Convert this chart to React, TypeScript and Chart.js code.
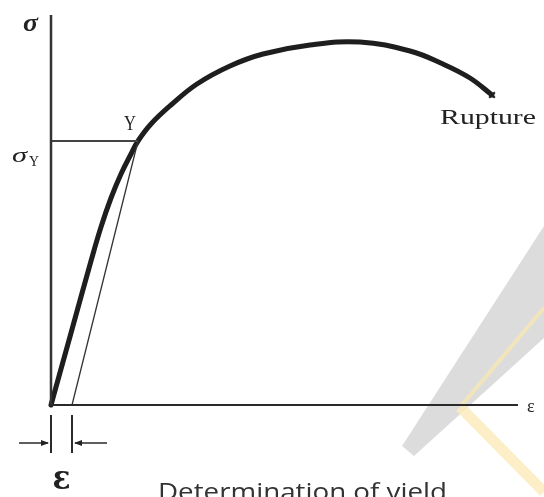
import React, { useEffect, useRef } from "react";
import { Chart, registerables } from "chart.js";

Chart.register(...registerables);

// Stress–strain curve (arbitrary units: strain, stress)
const strain = [0, 0.02, 0.04, 0.05, 0.06, 0.07, 0.08, 0.087, 0.1, 0.12, 0.146, 0.179, 0.212, 0.259, 0.309, 0.359, 0.392, 0.419, 0.441];
const stress = [0, 72, 144, 178, 207, 231, 251, 264, 281, 300, 321, 339, 351, 360, 363, 354, 341, 327, 310];

const yieldStrain = 0.087;
const yieldStress = 264;
const offsetStrain = 0.021;
const axisMaxStrain = 0.467;
const axisMaxStress = 390;

const W = 544;
const H = 497;

function drawScaledText(
  ctx: CanvasRenderingContext2D,
  text: string,
  font: string,
  left: number,
  baseline: number,
  width?: number
) {
  ctx.save();
  ctx.font = font;
  ctx.textAlign = "left";
  ctx.textBaseline = "alphabetic";
  const m = ctx.measureText(text).width;
  const sx = width ? width / m : 1;
  ctx.translate(left, baseline);
  ctx.scale(sx, 1);
  ctx.fillText(text, 0, 0);
  ctx.restore();
}

const backgroundPlugin = {
  id: "bgWatermark",
  beforeDraw(chart: any) {
    const ctx: CanvasRenderingContext2D = chart.ctx;
    ctx.save();
    ctx.fillStyle = "#ffffff";
    ctx.fillRect(0, 0, chart.width, chart.height);
    // faint grey diagonal band
    ctx.fillStyle = "rgba(208,208,208,0.75)";
    ctx.beginPath();
    ctx.moveTo(402, 446);
    ctx.lineTo(414, 456);
    ctx.lineTo(544, 338);
    ctx.lineTo(544, 226);
    ctx.closePath();
    ctx.fill();
    // yellow strokes
    ctx.strokeStyle = "rgba(250,232,178,0.75)";
    ctx.lineWidth = 4;
    ctx.beginPath();
    ctx.moveTo(461, 406);
    ctx.lineTo(544, 308);
    ctx.stroke();
    ctx.lineWidth = 11;
    ctx.strokeStyle = "rgba(252,236,190,0.85)";
    ctx.beginPath();
    ctx.moveTo(460, 407);
    ctx.lineTo(544, 492);
    ctx.stroke();
    ctx.restore();
  },
};

const annotationPlugin = {
  id: "annotations",
  afterDraw(chart: any) {
    const ctx: CanvasRenderingContext2D = chart.ctx;
    const xs = chart.scales.x;
    const ys = chart.scales.y;
    const x0 = xs.getPixelForValue(0);
    const x1 = xs.getPixelForValue(offsetStrain);
    const yBottom = ys.getPixelForValue(0);
    const yTop = ys.getPixelForValue(axisMaxStress);
    const xEnd = xs.getPixelForValue(axisMaxStrain);
    const yy = ys.getPixelForValue(yieldStress);
    const yx = xs.getPixelForValue(yieldStrain);
    const rx = xs.getPixelForValue(strain[strain.length - 1]);
    const ry = ys.getPixelForValue(stress[stress.length - 1]);

    ctx.save();
    ctx.fillStyle = "#222";
    ctx.strokeStyle = "#2a2a2a";

    // axis labels
    drawScaledText(ctx, "σ", "bold italic 25px 'Liberation Serif'", x0 - 28, yTop + 16, 15);
    drawScaledText(ctx, "ε", "18px 'Liberation Serif'", xEnd + 9, yBottom + 7);
    // yield labels
    drawScaledText(ctx, "σ", "italic 21px 'Liberation Serif'", x0 - 39, yy + 21, 15);
    drawScaledText(ctx, "Y", "14px 'Liberation Serif'", x0 - 22, yy + 25, 10);
    drawScaledText(ctx, "Y", "21px 'Liberation Serif'", yx - 14, yy - 11, 12);
    // rupture label
    drawScaledText(ctx, "Rupture", "20px 'Liberation Serif'", rx - 52, ry + 29, 96);

    // dimension lines for offset strain
    ctx.lineWidth = 2;
    ctx.beginPath();
    ctx.moveTo(x0, yBottom + 10);
    ctx.lineTo(x0, yBottom + 48);
    ctx.moveTo(x1, yBottom + 10);
    ctx.lineTo(x1, yBottom + 48);
    ctx.stroke();
    const ay = yBottom + 38;
    ctx.lineWidth = 1.5;
    ctx.beginPath();
    ctx.moveTo(x0 - 32, ay);
    ctx.lineTo(x0 - 3, ay);
    ctx.moveTo(x1 + 35, ay);
    ctx.lineTo(x1 + 3, ay);
    ctx.stroke();
    ctx.beginPath();
    ctx.moveTo(x0 - 2, ay);
    ctx.lineTo(x0 - 10, ay - 3);
    ctx.lineTo(x0 - 10, ay + 3);
    ctx.closePath();
    ctx.moveTo(x1 + 2, ay);
    ctx.lineTo(x1 + 10, ay - 3);
    ctx.lineTo(x1 + 10, ay + 3);
    ctx.closePath();
    ctx.fill();

    drawScaledText(ctx, "ε", "bold 34px 'DejaVu Serif'", (x0 + x1) / 2 - 9, yBottom + 84, 18);

    // caption (cut off at the bottom edge)
    ctx.fillStyle = "#333";
    drawScaledText(ctx, "Determination of yield", "24px 'Open Sans'", 158, yBottom + 95, 289);
    ctx.restore();
  },
};

export default function App() {
  const ref = useRef<HTMLCanvasElement | null>(null);

  useEffect(() => {
    document.body.style.margin = "0";
    const canvas = ref.current;
    if (!canvas) return;
    const curve = strain.map((x, i) => ({ x, y: stress[i] }));
    const chart = new Chart(canvas, {
      type: "scatter",
      data: {
        datasets: [
          {
            label: "y-axis",
            data: [
              { x: 0, y: 0 },
              { x: 0, y: axisMaxStress },
            ],
            showLine: true,
            borderColor: "#333",
            borderWidth: 2.5,
            pointRadius: 0,
            clip: false as any,
          },
          {
            label: "x-axis",
            data: [
              { x: 0, y: 0 },
              { x: axisMaxStrain, y: 0 },
            ],
            showLine: true,
            borderColor: "#2a2a2a",
            borderWidth: 2,
            pointRadius: 0,
            clip: false as any,
          },
          {
            label: "yield level",
            data: [
              { x: 0, y: yieldStress },
              { x: yieldStrain, y: yieldStress },
            ],
            showLine: true,
            borderColor: "#444",
            borderWidth: 2,
            pointRadius: 0,
            clip: false as any,
          },
          {
            label: "offset line",
            data: [
              { x: offsetStrain, y: 0 },
              { x: yieldStrain, y: yieldStress },
            ],
            showLine: true,
            borderColor: "#333",
            borderWidth: 1.3,
            pointRadius: 0,
            clip: false as any,
          },
          {
            label: "stress-strain",
            data: curve,
            showLine: true,
            borderColor: "#1e1e1e",
            borderWidth: 5,
            pointRadius: 0,
            tension: 0.4,
            borderCapStyle: "round",
            clip: false as any,
          },
          {
            label: "rupture",
            data: [{ x: strain[strain.length - 1], y: stress[stress.length - 1] }],
            showLine: false,
            pointStyle: "crossRot",
            pointRadius: 4,
            borderColor: "#1e1e1e",
            borderWidth: 2,
            clip: false as any,
          },
        ],
      },
      options: {
        responsive: false,
        animation: false,
        layout: { padding: { left: 51, right: 26, top: 15, bottom: 92 } },
        plugins: {
          legend: { display: false },
          tooltip: { enabled: false },
          title: { display: false },
        },
        scales: {
          x: { type: "linear", min: 0, max: axisMaxStrain, display: false },
          y: { type: "linear", min: 0, max: axisMaxStress, display: false },
        },
      },
      plugins: [backgroundPlugin, annotationPlugin],
    });
    return () => chart.destroy();
  }, []);

  return (
    <div style={{ width: W, height: H, overflow: "hidden" }}>
      <canvas ref={ref} width={W} height={H} style={{ display: "block" }} />
    </div>
  );
}
